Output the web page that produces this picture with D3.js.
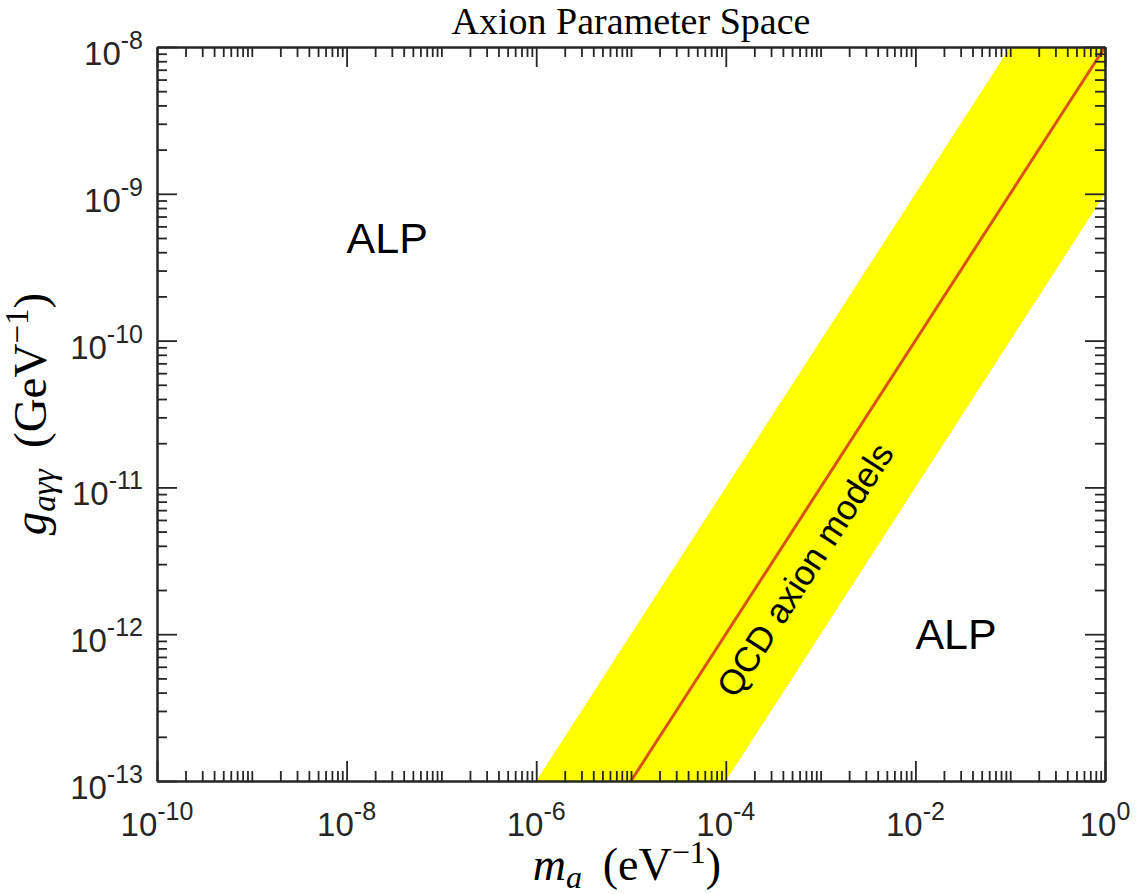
<!DOCTYPE html>
<html>
<head>
<meta charset="utf-8">
<script src="https://cdn.jsdelivr.net/npm/d3@7"></script>
<style>
  body { margin: 0; background: #fff; }
  svg { display: block; }
  .axis path, .axis line { stroke: #262626; }
  .ticklabel { font-family: 'Liberation Sans', Arial, sans-serif; fill: #262626; }
</style>
</head>
<body>
<svg width="1136" height="894"></svg>
<script>
// tick labels (powers of ten)
var xMajorExp = [-10, -8, -6, -4, -2, 0];
var yMajorExp = [-13, -12, -11, -10, -9, -8];

// yellow QCD band outline (mass eV, coupling GeV^-1)
var bandMass = [1e-6, 1e-1, 1, 1, 1e-4];
var bandCoupling = [1e-13, 1e-8, 1e-8, 1e-9, 1e-13];

// central line through the band
var lineMass = [1e-5, 1];
var lineCoupling = [1e-13, 1e-8];

// text labels
var alpLabels = ['ALP', 'ALP'];
var alpMass = [1e-8, 1e-2];
var alpCoupling = [5e-10, 1e-12];
var qcdLabel = 'QCD axion models';
var qcdMass = 6.8e-4;
var qcdCoupling = 2.75e-12;

var svg = d3.select('svg');

var plot = { l: 157, r: 1105, t: 47, b: 781 };

var x = d3.scaleLog().domain([1e-10, 1]).range([plot.l, plot.r]);
var y = d3.scaleLog().domain([1e-13, 1e-8]).range([plot.b, plot.t]);

// minor tick positions: every 1..9 x 10^k that is not a labelled decade
function minorTicks(lo, hi, majors) {
    var out = [];
    for (var k = lo; k < hi; k++) {
        for (var j = 1; j < 10; j++) {
            if (j === 1 && majors.indexOf(k) >= 0) continue;
            out.push(j * Math.pow(10, k));
        }
    }
    return out;
}
var xMinor = minorTicks(-10, 0, xMajorExp);
var yMinor = minorTicks(-13, -8, yMajorExp);
var xMajor = xMajorExp.map(function(e) { return Math.pow(10, e); });
var yMajor = yMajorExp.map(function(e) { return Math.pow(10, e); });

// band
var bandPts = bandMass.map(function(m, i) { return [x(m), y(bandCoupling[i])]; });
svg.append('path')
    .attr('d', d3.line()(bandPts) + 'Z')
    .attr('fill', '#ffff00')
    .attr('stroke', 'none');

// line
var linePts = lineMass.map(function(m, i) { return [x(m), y(lineCoupling[i])]; });
svg.append('path')
    .attr('d', d3.line()(linePts))
    .attr('fill', 'none')
    .attr('stroke', '#D95319')
    .attr('stroke-width', 3);

// axes: ticks point inward on all four sides
function addAxis(axisFn, scale, values, size, tr) {
    svg.append('g').attr('class', 'axis')
        .attr('transform', tr)
        .call(axisFn(scale).tickValues(values).tickSize(size).tickSizeOuter(0).tickFormat(''))
        .call(function(g) {
            g.select('.domain').attr('stroke-width', 2);
            g.selectAll('.tick line').attr('stroke-width', 1.8);
        });
}
addAxis(d3.axisBottom, x, xMinor, -10, 'translate(0,' + plot.b + ')');
addAxis(d3.axisBottom, x, xMajor, -20, 'translate(0,' + plot.b + ')');
addAxis(d3.axisTop, x, xMinor, -10, 'translate(0,' + plot.t + ')');
addAxis(d3.axisTop, x, xMajor, -20, 'translate(0,' + plot.t + ')');
addAxis(d3.axisLeft, y, yMinor, -10, 'translate(' + plot.l + ',0)');
addAxis(d3.axisLeft, y, yMajor, -20, 'translate(' + plot.l + ',0)');
addAxis(d3.axisRight, y, yMinor, -10, 'translate(' + plot.r + ',0)');
addAxis(d3.axisRight, y, yMajor, -20, 'translate(' + plot.r + ',0)');

// tick labels 10^n
function powLabel(sel, e) {
    sel.append('tspan').attr('font-size', 33).text('10');
    sel.append('tspan').attr('font-size', 25).attr('dy', -16).text(String(e));
}
xMajorExp.forEach(function(e) {
    svg.append('text').attr('class', 'ticklabel')
        .attr('x', x(Math.pow(10, e)))
        .attr('y', 836)
        .attr('text-anchor', 'middle')
        .call(powLabel, e);
});
yMajorExp.forEach(function(e) {
    svg.append('text').attr('class', 'ticklabel')
        .attr('x', plot.l - 14)
        .attr('y', y(Math.pow(10, e)) + 18)
        .attr('text-anchor', 'end')
        .call(powLabel, e);
});

var serif = "'Liberation Serif', 'Times New Roman', serif";

// title
svg.append('text')
    .attr('x', (plot.l + plot.r) / 2)
    .attr('y', 34)
    .attr('text-anchor', 'middle')
    .style('font-family', serif)
    .style('font-size', '38px')
    .text('Axion Parameter Space');

// x label: m_a (eV^-1)
var xl = svg.append('text')
    .attr('x', (plot.l + plot.r) / 2 - 4)
    .attr('y', 880)
    .attr('text-anchor', 'middle')
    .style('font-family', serif)
    .style('font-size', '46px');
xl.append('tspan').style('font-style', 'italic').text('m');
xl.append('tspan').style('font-style', 'italic').attr('font-size', 32).attr('dy', 8).text('a');
xl.append('tspan').attr('dy', -8).text('\u2009 (eV');
xl.append('tspan').attr('font-size', 32).attr('dy', -17).text('\u22121');
xl.append('tspan').attr('dy', 17).text(')');

// y label: g_a gamma gamma (GeV^-1)
var yl = svg.append('text')
    .attr('transform', 'translate(46,' + (plot.t + plot.b) / 2 + ') rotate(-90)')
    .attr('text-anchor', 'middle')
    .style('font-family', serif)
    .style('font-size', '47px');
yl.append('tspan').style('font-style', 'italic').text('g');
yl.append('tspan').style('font-style', 'italic').attr('font-size', 33).attr('dy', 9).text('a\u03b3\u03b3');
yl.append('tspan').attr('dy', -9).text('\u2009 (GeV');
yl.append('tspan').attr('font-size', 33).attr('dy', -18).text('\u22121');
yl.append('tspan').attr('dy', 18).text(')');

// ALP labels
alpLabels.forEach(function(t, i) {
    svg.append('text')
        .attr('x', x(alpMass[i]))
        .attr('y', y(alpCoupling[i]))
        .attr('dominant-baseline', 'central')
        .style('font-family', "'Liberation Sans', Arial, sans-serif")
        .style('font-size', '43px')
        .text(t);
});

// rotated QCD label, angle taken from the line
var ang = Math.atan2(linePts[1][1] - linePts[0][1], linePts[1][0] - linePts[0][0]) * 180 / Math.PI;
svg.append('text')
    .attr('transform', 'translate(' + x(qcdMass) + ',' + y(qcdCoupling) + ') rotate(' + ang + ')')
    .attr('text-anchor', 'middle')
    .attr('dominant-baseline', 'central')
    .style('font-family', "'Liberation Sans', Arial, sans-serif")
    .style('font-size', '35px')
    .text(qcdLabel);
</script>
</body>
</html>
